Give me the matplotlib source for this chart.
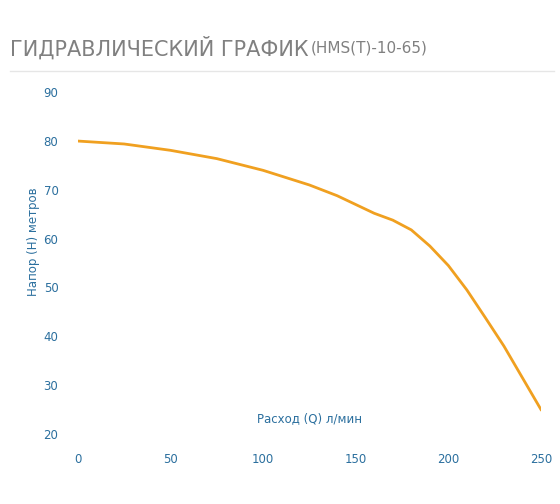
import matplotlib
matplotlib.use("Agg")
import matplotlib.pyplot as plt
from matplotlib.lines import Line2D

q = [0, 25, 50, 75, 100, 125, 140, 150, 160, 170, 180, 190, 200, 210, 220, 230, 240, 250]
h = [80, 79.4, 78.1, 76.4, 74, 71, 68.8, 67, 65.2, 63.8, 61.8, 58.5, 54.5, 49.5, 43.8, 38, 31.5, 25]
xticks = [0, 50, 100, 150, 200, 250]
yticks = [20, 30, 40, 50, 60, 70, 80, 90]

blue = "#2b6f9e"
fig = plt.figure(figsize=(5.6, 5.04), dpi=100)
ax = fig.add_axes([0.139, 0.139, 0.827, 0.678])
ax.plot(q, h, color="#f0a020", lw=2)
ax.set_xlim(0, 250)
ax.set_ylim(20, 90)
ax.set_xticks(xticks)
ax.set_yticks(yticks)
for s in ax.spines.values():
    s.set_visible(False)
ax.tick_params(length=0, colors=blue, labelsize=8.5, pad=14)
ax.text(0.5, 0.035, "Расход (Q) л/мин", transform=ax.transAxes, ha="center", color=blue, fontsize=8.5)
fig.text(0.059, 0.52, "Напор (H) метров", rotation=90, ha="center", va="center", color=blue, fontsize=8.5)
fig.text(0.018, 0.905, "ГИДРАВЛИЧЕСКИЙ ГРАФИК", color="#808080", fontsize=15, va="center")
fig.text(0.555, 0.905, "(HMS(T)-10-65)", color="#808080", fontsize=11, va="center")
fig.add_artist(Line2D([0.018, 0.99], [0.86, 0.86], color="#e6e6e6", lw=1))
fig.savefig("out.png")
